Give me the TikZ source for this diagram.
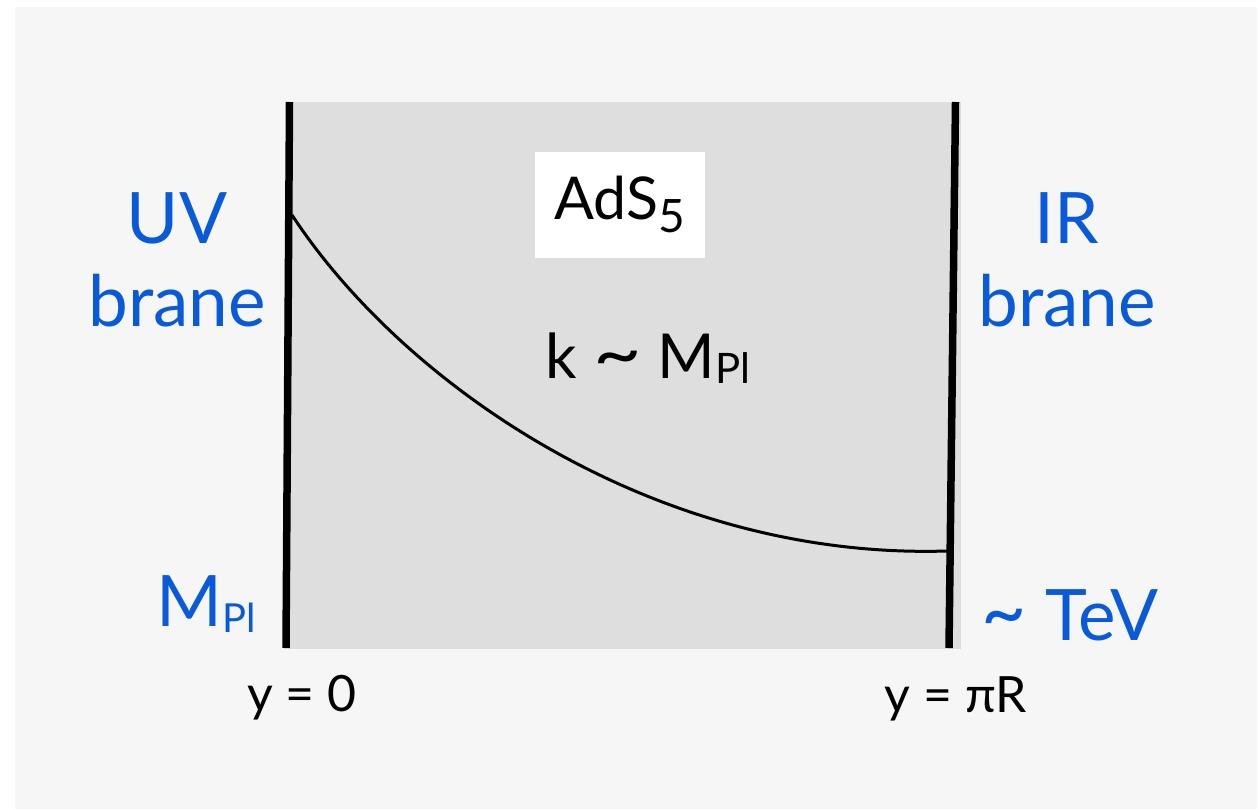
\documentclass[tikz,border=0pt]{standalone}
\usepackage{fontspec}
\setmainfont{Lato}
\usepackage{graphicx}
\usepackage{tikz}
\definecolor{braneblue}{RGB}{8,90,218}
\definecolor{bulkgray}{RGB}{222,222,222}
\definecolor{pagegray}{RGB}{246,246,246}
\newcommand{\subpl}[2]{{\fontsize{#1}{#1}\selectfont\raisebox{-#2}{Pl}}}
\newcommand{\wtilde}[1]{\scalebox{#1}[1.15]{\textasciitilde}}

\begin{document}
\begin{tikzpicture}[x=1pt, y=-1pt,
    brane/.style={line width=7.5pt},
    bluelbl/.style={text=braneblue, inner sep=0pt, anchor=base, font=\fontsize{71}{80}\selectfont},
    ylbl/.style={inner sep=0pt, anchor=base, font=\fontsize{50}{56}\selectfont}]
  \fill[white] (0,0) rectangle (1260,809);
  \useasboundingbox (0,0) rectangle (1260,809);
  \fill[pagegray] (15,7) rectangle (1257,809);
  \fill[bulkgray] (289,102) rectangle (961,649);

  % branes and warp factor
  \coordinate (uvtop) at (289.5,102);
  \coordinate (uvbot) at (286,648);
  \coordinate (irtop) at (955.5,102);
  \coordinate (irbot) at (949,648);
  \coordinate (uvwarp) at (292,215);
  \coordinate (irwarp) at (947,551);
  \draw[brane] (uvtop) -- (uvbot);
  \draw[brane] (irtop) -- (irbot);
  \draw[line width=3pt] (uvwarp) .. controls (400,380) and (650,560) .. (irwarp);

  % bulk labels
  \node[fill=white, inner sep=0pt, minimum width=170pt, text height=67pt, text depth=39pt,
        anchor=base, font=\fontsize{59}{64}\selectfont] (ads) at (620,219)
    {AdS{\fontsize{46}{46}\selectfont\raisebox{-13pt}{5}}};
  \node[inner sep=0pt, anchor=base, font=\fontsize{62}{68}\selectfont] (kscale) at (648,378)
    {k \wtilde{1.35} M\subpl{42}{5pt}};

  % brane labels
  \node[bluelbl] (uv) at (177,243) {UV};
  \node[bluelbl] (uvbrane) at (177,326) {brane};
  \node[bluelbl] (ir) at (1067,243) {IR};
  \node[bluelbl] (irbrane) at (1067,326) {brane};
  \node[bluelbl] (mpl) at (206,626) {M\subpl{40}{6pt}};
  \node[bluelbl] (tev) at (1070,640) {\wtilde{1.1} TeV};

  % positions
  \node[ylbl] (yzero) at (302,711) {y = 0};
  \node[ylbl] (ypir) at (956,712) {y = πR};
\end{tikzpicture}
\end{document}
